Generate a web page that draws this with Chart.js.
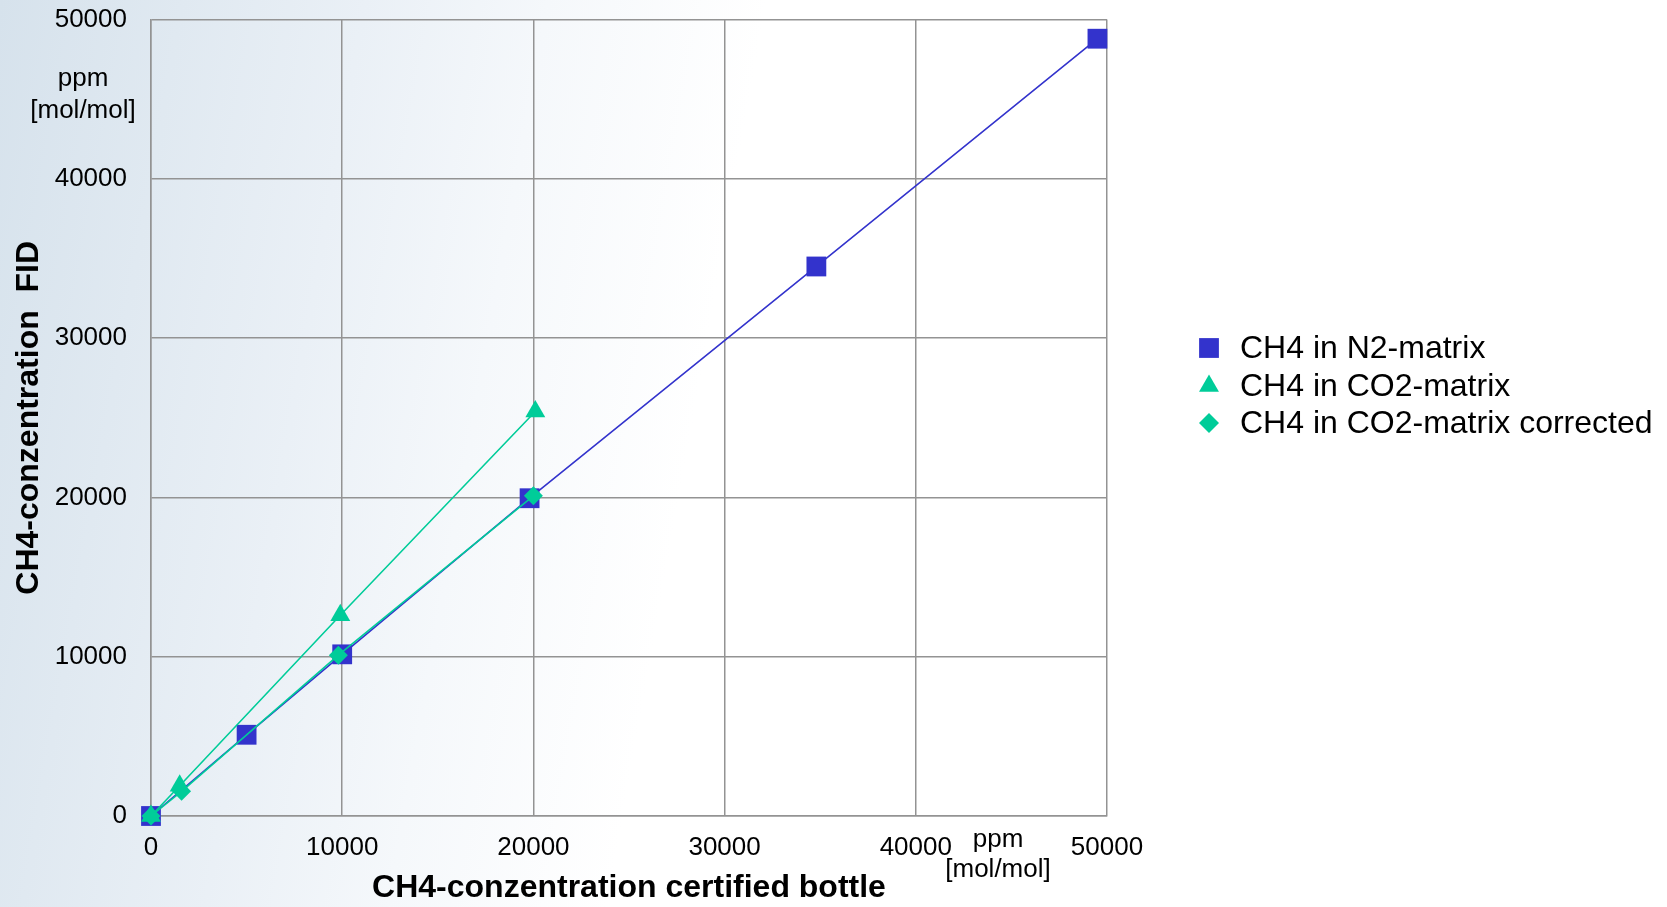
<!DOCTYPE html>
<html>
<head>
<meta charset="utf-8">
<script src="https://cdn.jsdelivr.net/npm/chart.js@4/dist/chart.umd.min.js"></script>
<style>
  html, body { margin: 0; padding: 0; }
  body {
    width: 1667px; height: 907px; overflow: hidden;
    background: linear-gradient(100deg, #d6e2ec 0%, #e0e9f1 10%, #eaf0f6 20%, #f5f8fb 30%, #ffffff 42%);
  }
  #wrap { position: relative; width: 1667px; height: 907px; overflow: hidden; }
  #c { position: absolute; left: 0; top: -20px; }
</style>
</head>
<body>
<div id="wrap"><canvas id="c" width="1667" height="927"></canvas></div>
<script>
// Certified bottle concentration (x) vs. FID reading (y), ppm [mol/mol]
const n2X   = [0, 5000, 10000, 19800, 34800, 49500];
const n2Y   = [0, 5100, 10150, 19950, 34500, 48800];
const co2X  = [0, 1500, 9900, 20100];
const co2Y  = [0, 1900, 12600, 25400];
const corrX = [0, 1600, 9800, 20000];
const corrY = [0, 1550, 10100, 20100];

const seriesNames = ['CH4 in N2-matrix', 'CH4 in CO2-matrix', 'CH4 in CO2-matrix corrected'];
const tickValues = [0, 10000, 20000, 30000, 40000, 50000];
const xTitle = 'CH4-conzentration certified bottle';
const yTitle = 'CH4-conzentration  FID';
const unitLines = ['ppm', '[mol/mol]'];

const BLUE = '#3333cc';
const GREEN = '#00cc99';
const FONT = "'Liberation Sans', Arial, Helvetica, sans-serif";
const SHIFT = 20; // canvas sits 20px above the page top

const pairs = (xs, ys) => xs.map((x, i) => ({ x: x, y: ys[i] }));

// Legend and unit captions drawn next to the plot area
const extrasPlugin = {
  id: 'extras',
  afterDraw(chart) {
    const ctx = chart.ctx;
    ctx.save();
    ctx.fillStyle = '#000';
    ctx.font = '26px ' + FONT;
    ctx.textAlign = 'center';
    ctx.textBaseline = 'alphabetic';
    // y-axis unit
    ctx.fillText(unitLines[0], 83, 86 + SHIFT);
    ctx.fillText(unitLines[1], 83, 118 + SHIFT);
    // x-axis unit
    ctx.fillText(unitLines[0], 998, 847 + SHIFT);
    ctx.fillText(unitLines[1], 998, 877 + SHIFT);

    // legend
    const rows = [348, 386, 423];
    chart.data.datasets.forEach((ds, i) => {
      const y = rows[i] + SHIFT;
      const style = {
        pointStyle: ds.pointStyle,
        radius: ds.legendRadius,
        rotation: 0,
        borderWidth: 0
      };
      ctx.fillStyle = ds.pointBackgroundColor;
      ctx.strokeStyle = ds.pointBackgroundColor;
      Chart.helpers.drawPoint(ctx, style, 1209, y);
      ctx.fillStyle = '#000';
      ctx.font = '32px ' + FONT;
      ctx.textAlign = 'left';
      ctx.textBaseline = 'middle';
      ctx.fillText(ds.label, 1240, y + 1);
    });
    ctx.restore();
  }
};

new Chart(document.getElementById('c'), {
  type: 'line',
  data: {
    datasets: [
      {
        label: seriesNames[0],
        data: pairs(n2X, n2Y),
        borderColor: BLUE, borderWidth: 1.6,
        pointStyle: 'rect', pointRadius: 14, pointHoverRadius: 14,
        pointBackgroundColor: BLUE, pointBorderWidth: 0,
        legendRadius: 14,
        order: 3, clip: false
      },
      {
        label: seriesNames[1],
        data: pairs(co2X, co2Y),
        borderColor: GREEN, borderWidth: 1.6,
        pointStyle: 'triangle', pointRadius: 11.5, pointHoverRadius: 11.5,
        pointBackgroundColor: GREEN, pointBorderWidth: 0,
        legendRadius: 11.5,
        order: 2, clip: false
      },
      {
        label: seriesNames[2],
        data: pairs(corrX, corrY),
        borderColor: GREEN, borderWidth: 1.6,
        pointStyle: 'rectRot', pointRadius: 9.5, pointHoverRadius: 9.5,
        pointBackgroundColor: GREEN, pointBorderWidth: 0,
        legendRadius: 10,
        order: 1, clip: false
      }
    ]
  },
  options: {
    responsive: false,
    animation: false,
    events: [],
    layout: { autoPadding: false, padding: { left: 0, top: 0, right: 560, bottom: 0 } },
    plugins: {
      legend: { display: false },
      tooltip: { enabled: false }
    },
    scales: {
      x: {
        type: 'linear',
        min: 0, max: 50000,
        afterBuildTicks(scale) { scale.ticks = tickValues.map(v => ({ value: v })); },
        afterFit(scale) { scale.height = 91; },
        grid: { color: '#939393', lineWidth: 1.5, drawTicks: false },
        border: { color: '#939393', width: 1.5 },
        ticks: {
          color: '#000', padding: 16, maxRotation: 0,
          font: { family: FONT, size: 26 },
          callback: v => String(v)
        },
        title: {
          display: true, text: xTitle, color: '#000',
          font: { family: FONT, size: 32, weight: 'bold' },
          padding: { top: 0, bottom: 0 }
        }
      },
      y: {
        type: 'linear',
        min: 0, max: 50000,
        afterBuildTicks(scale) { scale.ticks = tickValues.map(v => ({ value: v })); },
        afterFit(scale) { scale.width = 151; },
        grid: { color: '#939393', lineWidth: 1.5, drawTicks: false },
        border: { color: '#939393', width: 1.5 },
        ticks: {
          color: '#000', padding: 24,
          font: { family: FONT, size: 26 },
          callback: v => String(v)
        },
        title: {
          display: true, text: yTitle, color: '#000',
          font: { family: FONT, size: 32, weight: 'bold' },
          padding: { top: 10, bottom: 0 }
        }
      }
    }
  },
  plugins: [extrasPlugin]
});
</script>
</body>
</html>
